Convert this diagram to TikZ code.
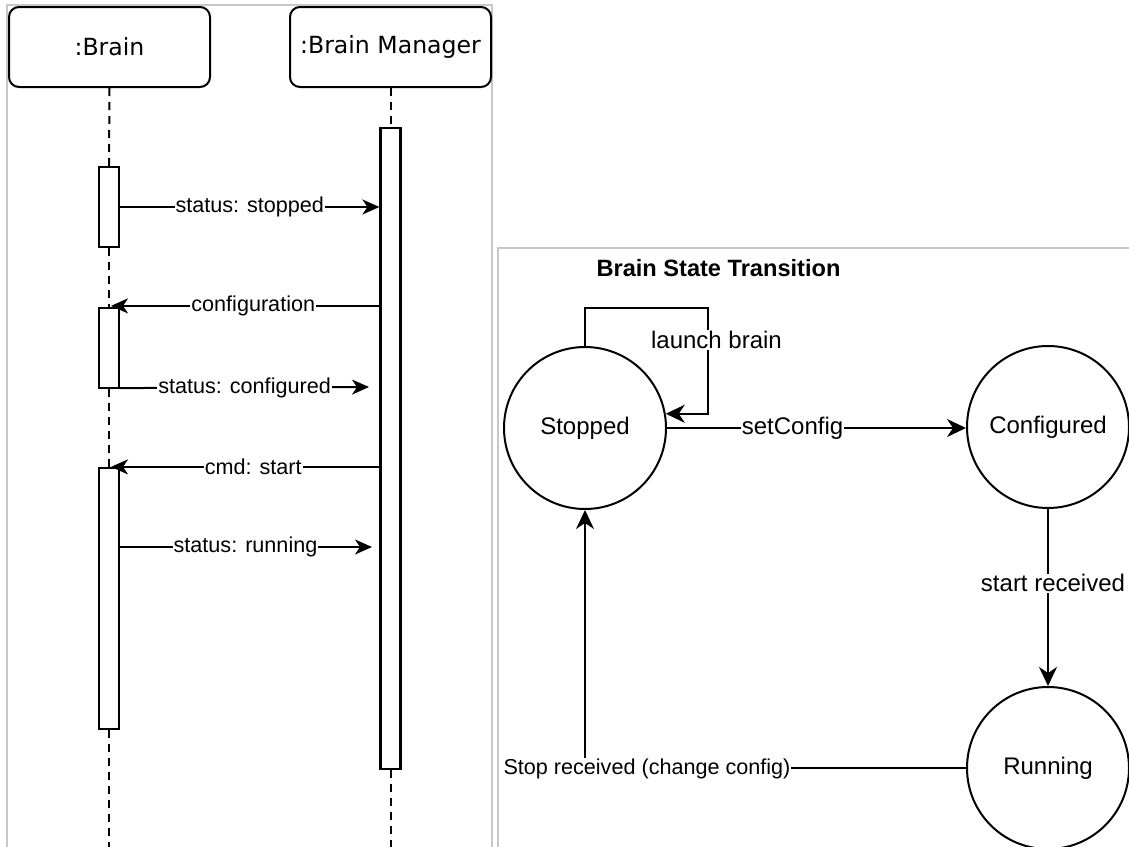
\documentclass[tikz,border=0pt]{standalone}
\usepackage{fontspec}
\setmainfont{Liberation Sans}
\newfontfamily\lifefont{DejaVu Sans}
\usetikzlibrary{arrows.meta}

\tikzset{
  frame/.style={draw=black!22, line width=2pt},
  lifebox/.style={draw, line width=2pt, rounded corners=10pt, fill=white,
    minimum width=201pt, minimum height=80pt, inner sep=0pt,
    font=\lifefont\fontsize{23.6}{26}\selectfont},
  actbox/.style={draw, line width=2.2pt, fill=white, minimum width=20pt, inner sep=0pt},
  lifeline/.style={line width=2pt, dash pattern=on 8pt off 6pt},
  msg/.style={line width=2pt, -{Stealth[length=17pt, width=15pt, inset=5pt]}},
  msglbl/.style={fill=white, inner sep=1pt, font=\fontsize{21.6}{24}\selectfont},
  state/.style={draw, circle, line width=2pt, minimum size=162pt, inner sep=0pt,
    font=\fontsize{24}{27}\selectfont},
  tr/.style={line width=2pt, -{Stealth[length=19pt, width=18pt, inset=6pt]}},
  trlbl/.style={fill=white, inner sep=1pt, font=\fontsize{24}{27}\selectfont},
}

\begin{document}
\begin{tikzpicture}[x=1pt, y=-1pt]
\useasboundingbox (0,0) rectangle (1129,846);
\clip (0,0) rectangle (1129,846);

% ---------------- sequence diagram ----------------
\draw[frame] (7,5) rectangle (492,870);

\node[lifebox] (brain) at (109.5,47) {:Brain};
\node[lifebox] (mgr) at (390.5,47) {:Brain Manager};

\node[actbox, minimum height=641pt] (mact) at (390.5,448.5) {};
\node[actbox, minimum height=80pt] (act1) at (109,207) {};
\node[actbox, minimum height=80pt] (act2) at (109,348) {};
\node[actbox, minimum height=261pt] (act3) at (109,598.5) {};

\coordinate (brainEnd) at (109,860);
\coordinate (mgrEnd) at (390.5,860);
\draw[lifeline] (brain.south) -- (act1.north);
\draw[lifeline] (act1.south) -- (act2.north);
\draw[lifeline] (act2.south) -- (act3.north);
\draw[lifeline] (act3.south) -- (brainEnd);
\draw[lifeline] (mgr.south) -- (mact.north);
\draw[lifeline] (mact.south) -- (mgrEnd);

\coordinate (cfgEnd) at (369,387);
\coordinate (runFrom) at (119,547);
\coordinate (runEnd) at (372,547);

\draw[msg] (act1.east) -- node[msglbl] {status: stopped} (mact.west |- act1.east);
\draw[msg] ([yshift=1pt]mact.west |- act2.north) -- node[msglbl, pos=0.47] {configuration} ([yshift=1pt,xshift=2pt]act2.north);
\draw[msg] ([yshift=1pt]act2.south east) -- node[msglbl, pos=0.5] {status: configured} (cfgEnd);
\draw[msg] (mact.west |- act3.north) -- node[msglbl, pos=0.47] {cmd: start} ([xshift=2pt]act3.north);
\draw[msg] (runFrom) -- node[msglbl] {status: running} (runEnd);

% ---------------- state diagram ----------------
\draw[frame] (498,248) rectangle (1145,870);

\node[font=\bfseries\fontsize{23.6}{26}\selectfont] (title) at (718.5,268) {Brain State Transition};

\node[state] (stopped) at (585,428) {Stopped};
\node[state] (conf) at (1048,427) {Configured};
\node[state] (run) at (1048,768) {Running};

\coordinate (loopTop) at (708,308);
\draw[tr] (stopped.north) |- (loopTop) |- (stopped.10);
\node[trlbl] (loopLbl) at (716.5,340) {launch brain};

\draw[tr] (stopped.east) -- node[trlbl, pos=0.42] {setConfig} (conf.west |- stopped.east);
\draw[tr] (conf.south) -- node[trlbl, pos=0.42, xshift=5pt] {start received} (run.north);
\draw[tr] (run.west) -| (stopped.south);
\node[msglbl, inner sep=1pt] (stopLbl) at (647,769) {Stop received (change config)};

\end{tikzpicture}
\end{document}
